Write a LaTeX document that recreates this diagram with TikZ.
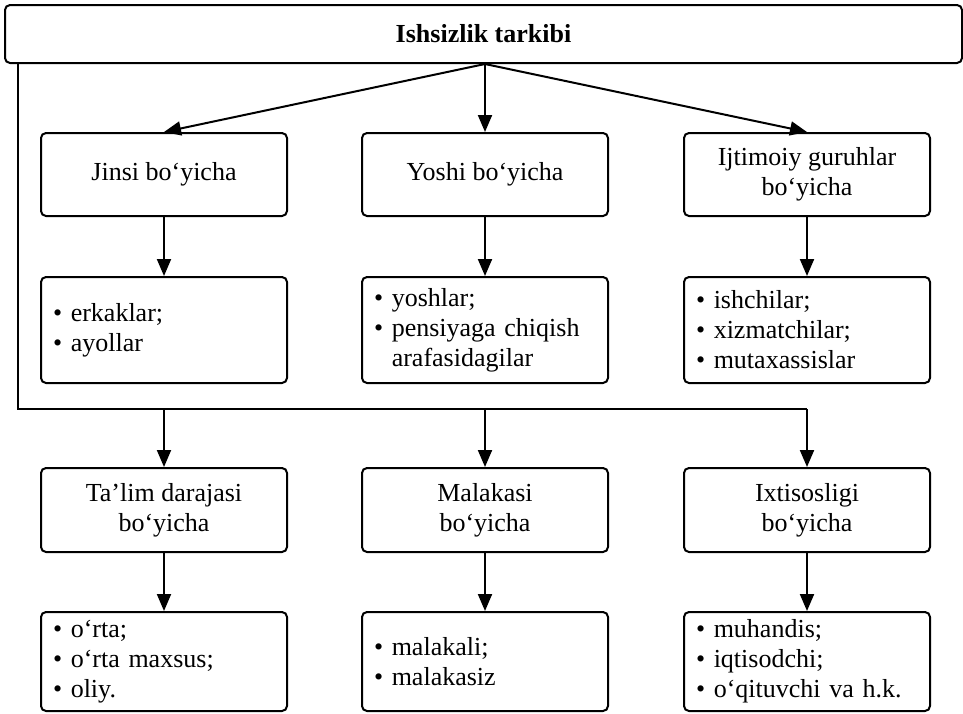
\documentclass[tikz,border=0pt]{standalone}
\usepackage{fontspec}
\setmainfont{Liberation Serif}
\usetikzlibrary{arrows.meta,calc}
\begin{document}
\begin{tikzpicture}[x=1pt,y=-1pt,
  box/.style={draw, line width=2pt, rounded corners=5pt, minimum width=246pt, align=center, font=\fontsize{26}{30}\selectfont, inner sep=0pt},
  hdr/.style={box, minimum height=83pt},
  lst/.style={draw, line width=2pt, rounded corners=5pt, text width=222pt, inner xsep=12pt, inner ysep=0pt, align=left, font=\fontsize{26}{30}\selectfont},
  arr/.style={line width=2pt, -{Triangle[length=17pt,width=14pt]}},
  ln/.style={line width=2pt}]
\useasboundingbox (0,0) rectangle (963,713);
% title
\node[box, minimum width=957pt, minimum height=58pt, font=\fontsize{26}{30}\selectfont\bfseries] (title) at (483.5,34) {Ishsizlik tarkibi};
% row 1 headers
\node[hdr] (a1) at (164,174.5) {Jinsi bo‘yicha};
\node[hdr] (a2) at (485,174.5) {Yoshi bo‘yicha};
\node[hdr] (a3) at (807,174.5) {Ijtimoiy guruhlar\\bo‘yicha};
% row 1 lists
\node[lst, minimum height=106pt] (b1) at (164,330) {• erkaklar;\\• ayollar};
\node[lst, minimum height=106pt] (b2) at (485,330) {• yoshlar;\\• pensiyaga chiqish\\\phantom{•}\ arafasidagilar};
\node[lst, minimum height=106pt] (b3) at (807,330) {• ishchilar;\\• xizmatchilar;\\• mutaxassislar};
% row 2 headers
\node[hdr, minimum height=84pt] (c1) at (164,510) {Ta’lim darajasi\\bo‘yicha};
\node[hdr, minimum height=84pt] (c2) at (485,510) {Malakasi\\bo‘yicha};
\node[hdr, minimum height=84pt] (c3) at (807,510) {Ixtisosligi\\bo‘yicha};
% row 2 lists
\node[lst, minimum height=99pt] (d1) at (164,661.5) {• o‘rta;\\• o‘rta maxsus;\\• oliy.};
\node[lst, minimum height=99pt] (d2) at (485,661.5) {• malakali;\\• malakasiz};
\node[lst, minimum height=99pt] (d3) at (807,661.5) {• muhandis;\\• iqtisodchi;\\• o‘qituvchi va h.k.};
% arrows from title
\coordinate (src) at (title.south -| a2.north);
\draw[arr] (src) -- (a1.north);
\draw[arr] (src) -- (a2.north);
\draw[arr] (src) -- (a3.north);
% header to list
\draw[arr] (a1.south) -- (b1.north);
\draw[arr] (a2.south) -- (b2.north);
\draw[arr] (a3.south) -- (b3.north);
\draw[arr] (c1.south) -- (d1.north);
\draw[arr] (c2.south) -- (d2.north);
\draw[arr] (c3.south) -- (d3.north);
% side connector
\coordinate (bend) at (18,409);
\draw[ln] (title.south -| bend) -- (bend) -- (bend -| c3.north);
\draw[arr] (bend -| c1.north) -- (c1.north);
\draw[arr] (bend -| c2.north) -- (c2.north);
\draw[arr] (bend -| c3.north) -- (c3.north);
\end{tikzpicture}
\end{document}
